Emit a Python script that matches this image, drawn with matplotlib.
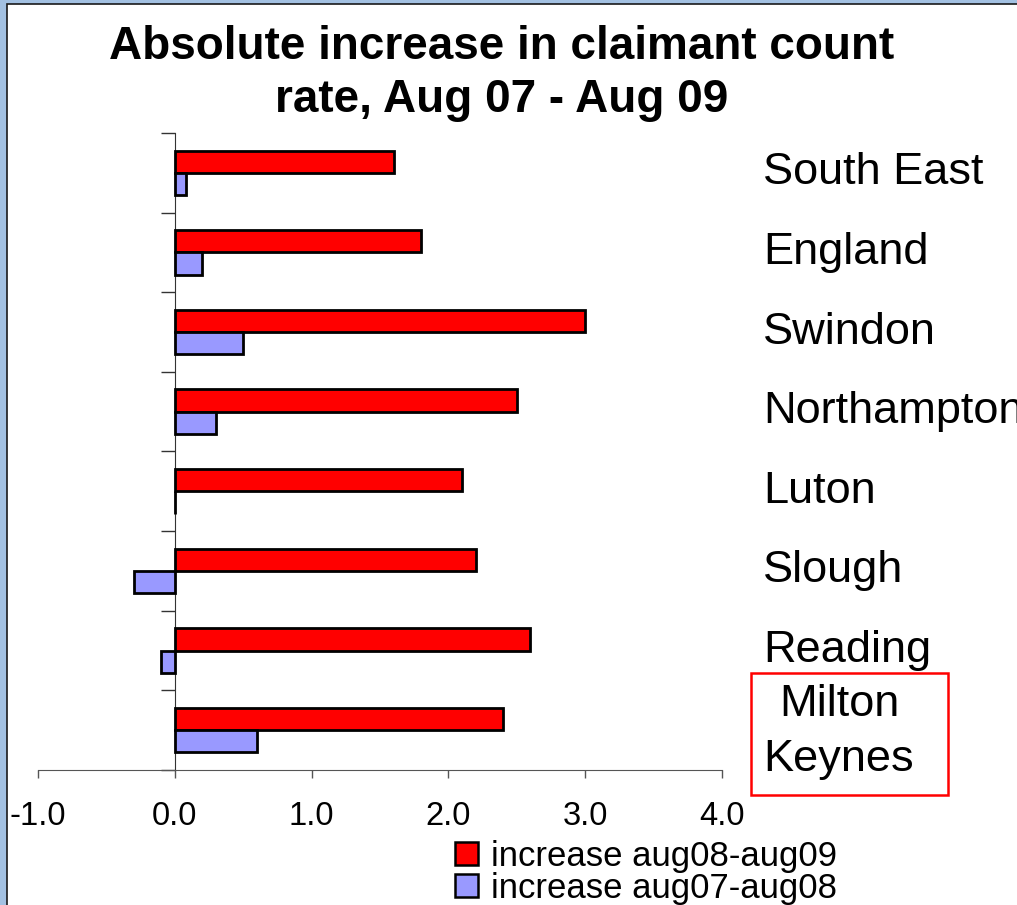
import numpy as np
import matplotlib
matplotlib.use("Agg")
import matplotlib.pyplot as plt
from matplotlib.patches import Patch, Rectangle

plt.rcParams["font.family"] = ["Liberation Sans", "DejaVu Sans"]
plt.rcParams["axes.unicode_minus"] = False

# areas, top to bottom
areas = ["South East", "England", "Swindon", "Northampton",
         "Luton", "Slough", "Reading", "Milton\nKeynes"]
inc_08_09 = [1.6, 1.8, 3.0, 2.5, 2.1, 2.2, 2.6, 2.4]
inc_07_08 = [0.08, 0.2, 0.5, 0.3, 0.0, -0.3, -0.1, 0.6]
x_ticks = [-1.0, 0.0, 1.0, 2.0, 3.0, 4.0]

RED = "#FF0000"
LILAC = "#9999FF"

W, H = 1017, 905
fig = plt.figure(figsize=(W / 100, H / 100), dpi=100)
fig.patch.set_facecolor("#A3C1E2")
# white chart area with thin dark frame
fig.add_artist(Rectangle((7 / W, -0.02), 1.0, 1 - 4 / H + 0.02,
                         transform=fig.transFigure, fc="white",
                         ec="#1a1a1a", lw=1.2, zorder=0))

ax = fig.add_axes([38 / W, (H - 770) / H, 684 / W, 637 / H])
ax.set_facecolor("none")

y = np.arange(len(areas))
bh = 0.28
ax.barh(y - 0.14, inc_08_09, height=bh, color=RED, edgecolor="black",
        linewidth=2.0, label="increase aug08-aug09", zorder=3)
ax.barh(y + 0.14, inc_07_08, height=bh, color=LILAC, edgecolor="black",
        linewidth=2.0, label="increase aug07-aug08", zorder=3)

ax.set_xlim(-1, 4)
ax.set_ylim(len(areas) - 0.5, -0.5)

for s in ["top", "right"]:
    ax.spines[s].set_visible(False)
ax.spines["left"].set_position(("data", 0))
ax.spines["left"].set_color("#333333")
ax.spines["bottom"].set_color("#555555")

ax.set_xticks(x_ticks)
ax.set_xticklabels([f"{v:.1f}" for v in x_ticks])
ax.tick_params(axis="x", direction="out", length=6, width=1,
               color="#555555", labelsize=23.5, pad=16)
ax.set_yticks(np.arange(-0.5, len(areas), 1.0))
ax.set_yticklabels([])
ax.tick_params(axis="y", direction="out", length=10, width=1,
               color="#333333")

# area names on the right-hand side
for i, name in enumerate(areas):
    if "\n" in name:
        ax.text(4.855, i + 0.02, name, ha="center", va="center",
                fontsize=32.5, linespacing=1.42, clip_on=False)
    else:
        ax.text(4.3, i, name, ha="left", va="center", fontsize=32.5,
                clip_on=False)

# red outline round the Milton Keynes label
fig.add_artist(Rectangle((751 / W, 1 - 795 / H), 197 / W, 122 / H,
                         transform=fig.transFigure, fill=False,
                         ec="red", lw=1.8))

fig.text(502 / W, 1 - 25 / H,
         "Absolute increase in claimant count\nrate, Aug 07 - Aug 09",
         ha="center", va="top", fontsize=33, fontweight="bold",
         linespacing=1.25)

handles = [Patch(facecolor=RED, edgecolor="black", lw=1.8),
           Patch(facecolor=LILAC, edgecolor="black", lw=1.8)]
fig.legend(handles, ["increase aug08-aug09", "increase aug07-aug08"],
           loc="upper left", bbox_to_anchor=(455 / W, 1 - 840 / H),
           frameon=False, fontsize=25, handlelength=0.65,
           handleheight=0.65, handletextpad=0.4, labelspacing=-0.03,
           borderpad=0, borderaxespad=0)

fig.savefig("out.png", dpi=100, facecolor=fig.get_facecolor())
